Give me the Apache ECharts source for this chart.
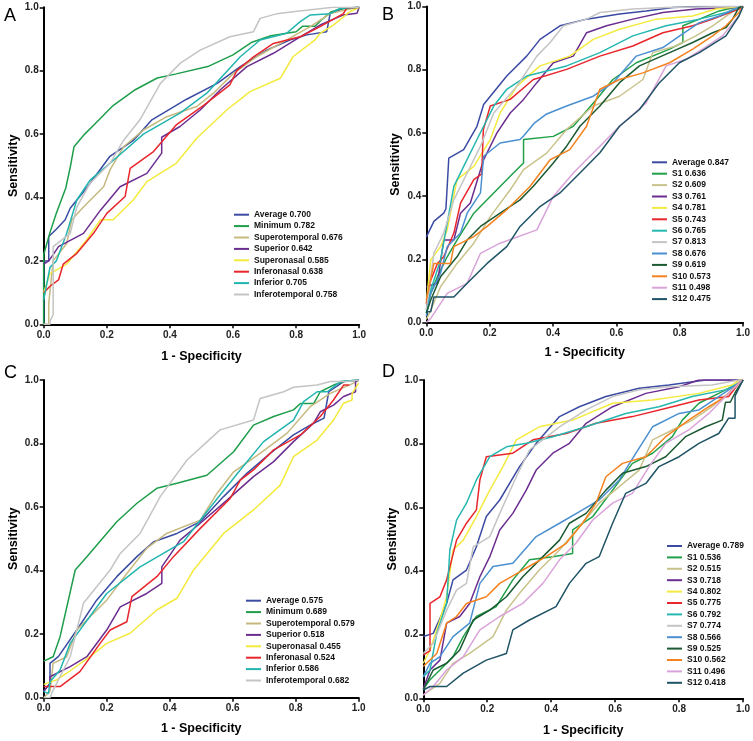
<!DOCTYPE html>
<html><head><meta charset="utf-8">
<script src="https://cdn.jsdelivr.net/npm/echarts@6/dist/echarts.min.js"></script>
<style>html,body{margin:0;padding:0;background:#fff}#c{width:753px;height:741px}</style>
</head><body><div id="c"></div>
<script>
// ---------- Panel A ----------
const A_names = ['Average 0.700','Minimum 0.782','Superotemporal 0.676','Superior 0.642','Superonasal 0.585','Inferonasal 0.638','Inferior 0.705','Inferotemporal 0.758'];
const A_avg = [[0,0],[0,0.2],[0.016,0.2],[0.016,0.277],[0.04,0.3],[0.068,0.33],[0.084,0.366],[0.136,0.43],[0.21,0.53],[0.284,0.58],[0.343,0.645],[0.453,0.71],[0.55,0.76],[0.623,0.813],[0.707,0.865],[0.78,0.897],[0.834,0.913],[0.897,0.923],[0.908,0.98],[0.95,0.997],[1,1]];
const A_min = [[0,0],[0,0.22],[0.02,0.29],[0.04,0.35],[0.07,0.43],[0.085,0.5],[0.096,0.56],[0.13,0.6],[0.17,0.64],[0.22,0.69],[0.29,0.74],[0.36,0.777],[0.42,0.79],[0.52,0.813],[0.6,0.85],[0.66,0.89],[0.72,0.91],[0.8,0.923],[0.82,0.94],[0.86,0.94],[0.88,0.96],[0.91,0.985],[0.94,0.995],[1,1]];
const A_supT = [[0,0],[0.016,0],[0.016,0.066],[0.03,0.2],[0.073,0.255],[0.089,0.33],[0.126,0.37],[0.19,0.434],[0.21,0.487],[0.253,0.56],[0.316,0.613],[0.39,0.655],[0.485,0.687],[0.538,0.729],[0.6,0.79],[0.675,0.844],[0.77,0.897],[0.845,0.939],[0.908,0.98],[0.98,0.997],[1,1]];
const A_sup = [[0,0.19],[0.016,0.2],[0.03,0.22],[0.047,0.245],[0.126,0.287],[0.18,0.36],[0.242,0.434],[0.327,0.476],[0.374,0.54],[0.374,0.59],[0.432,0.624],[0.496,0.676],[0.56,0.74],[0.644,0.813],[0.728,0.855],[0.813,0.907],[0.876,0.944],[0.95,0.976],[0.993,0.981],[1,1]];
const A_supN = [[0,0.1],[0.02,0.16],[0.073,0.19],[0.136,0.266],[0.18,0.33],[0.22,0.33],[0.284,0.392],[0.327,0.45],[0.42,0.508],[0.485,0.587],[0.58,0.676],[0.654,0.734],[0.75,0.776],[0.79,0.844],[0.86,0.897],[0.876,0.918],[0.918,0.944],[0.95,0.97],[0.97,0.986],[1,1]];
const A_infN = [[0,0.1],[0.02,0.12],[0.047,0.14],[0.062,0.19],[0.105,0.224],[0.158,0.287],[0.2,0.35],[0.258,0.403],[0.274,0.492],[0.348,0.545],[0.42,0.629],[0.506,0.69],[0.59,0.755],[0.612,0.8],[0.665,0.844],[0.728,0.886],[0.813,0.907],[0.876,0.939],[0.95,0.98],[0.96,0.997],[1,1]];
const A_inf = [[0,0.077],[0.02,0.18],[0.04,0.2],[0.073,0.287],[0.105,0.392],[0.147,0.455],[0.21,0.508],[0.316,0.6],[0.432,0.666],[0.517,0.729],[0.623,0.844],[0.686,0.897],[0.77,0.918],[0.813,0.955],[0.845,0.976],[0.908,0.98],[0.94,0.997],[1,1]];
const A_infT = [[0,0],[0.02,0],[0.02,0.01],[0.03,0.03],[0.03,0.245],[0.084,0.287],[0.105,0.37],[0.147,0.445],[0.21,0.508],[0.253,0.58],[0.305,0.645],[0.37,0.76],[0.432,0.823],[0.496,0.865],[0.59,0.907],[0.665,0.923],[0.686,0.965],[0.74,0.98],[0.79,0.986],[0.918,1],[1,1]];

// ---------- Panel C ----------
const C_names = ['Average 0.575','Minimum 0.689','Superotemporal 0.579','Superior 0.518','Superonasal 0.455','Inferonasal 0.524','Inferior 0.586','Inferotemporal 0.682'];
const C_avg = [[0,0.02],[0.02,0.045],[0.02,0.108],[0.047,0.13],[0.105,0.213],[0.168,0.307],[0.232,0.381],[0.296,0.444],[0.349,0.491],[0.423,0.517],[0.497,0.554],[0.571,0.633],[0.645,0.706],[0.719,0.769],[0.793,0.827],[0.857,0.864],[0.89,0.88],[0.905,0.963],[0.952,0.995],[1,1]];
const C_min = [[0,0.115],[0.03,0.129],[0.052,0.192],[0.1,0.402],[0.137,0.444],[0.232,0.554],[0.296,0.612],[0.359,0.659],[0.423,0.675],[0.518,0.7],[0.603,0.774],[0.666,0.858],[0.73,0.885],[0.793,0.906],[0.815,0.926],[0.857,0.926],[0.878,0.963],[0.92,0.984],[0.952,0.995],[1,1]];
const C_supT = [[0,0],[0.02,0.02],[0.03,0.108],[0.073,0.129],[0.105,0.213],[0.2,0.307],[0.264,0.391],[0.327,0.47],[0.39,0.517],[0.497,0.559],[0.55,0.643],[0.603,0.711],[0.687,0.769],[0.772,0.832],[0.846,0.916],[0.91,0.958],[0.984,0.99],[1,1]];
const C_sup = [[0,0.02],[0.02,0.045],[0.02,0.066],[0.084,0.098],[0.137,0.129],[0.2,0.213],[0.243,0.286],[0.327,0.328],[0.375,0.36],[0.375,0.412],[0.433,0.496],[0.497,0.549],[0.582,0.622],[0.666,0.696],[0.73,0.743],[0.793,0.806],[0.857,0.864],[0.878,0.9],[0.92,0.921],[0.952,0.948],[0.99,0.963],[0.99,0.995],[1,1]];
const C_supN = [[0,0.042],[0.041,0.056],[0.073,0.077],[0.147,0.129],[0.2,0.171],[0.274,0.203],[0.359,0.276],[0.423,0.313],[0.476,0.402],[0.571,0.517],[0.666,0.591],[0.751,0.669],[0.793,0.759],[0.868,0.811],[0.92,0.874],[0.952,0.927],[0.979,0.937],[0.979,0.958],[1,0.99]];
const C_infN = [[0,0.035],[0.052,0.035],[0.115,0.082],[0.179,0.171],[0.211,0.213],[0.264,0.239],[0.28,0.318],[0.359,0.381],[0.412,0.444],[0.497,0.533],[0.592,0.627],[0.624,0.685],[0.666,0.717],[0.73,0.78],[0.815,0.827],[0.878,0.885],[0.92,0.937],[0.952,0.984],[0.97,0.984]];
const C_inf = [[0,0.02],[0.015,0.013],[0.02,0.05],[0.052,0.087],[0.084,0.171],[0.2,0.328],[0.306,0.412],[0.444,0.491],[0.539,0.612],[0.624,0.717],[0.698,0.806],[0.793,0.874],[0.825,0.932],[0.868,0.963],[0.9,0.963],[0.942,0.995],[1,1]];
const C_infT = [[0,0],[0.02,0],[0.03,0.024],[0.084,0.129],[0.126,0.297],[0.211,0.402],[0.243,0.454],[0.306,0.517],[0.37,0.633],[0.455,0.748],[0.56,0.843],[0.666,0.874],[0.687,0.942],[0.762,0.963],[0.793,0.977],[0.868,0.984],[0.91,0.995],[0.963,0.995],[1,1]];

// ---------- Panel B ----------
const B_names = ['Average 0.847','S1 0.636','S2 0.609','S3 0.761','S4 0.781','S5 0.743','S6 0.765','S7 0.813','S8 0.676','S9 0.619','S10 0.573','S11 0.498','S12 0.475'];
const B_avg = [[0,0.27],[0.024,0.32],[0.055,0.346],[0.062,0.36],[0.071,0.52],[0.118,0.547],[0.16,0.621],[0.181,0.69],[0.254,0.78],[0.317,0.843],[0.359,0.896],[0.422,0.939],[0.506,0.96],[0.61,0.976],[0.694,0.986],[0.778,0.997],[0.862,1],[1,1]];
const B_S1 = [[0,0.03],[0.014,0.092],[0.035,0.145],[0.066,0.208],[0.097,0.261],[0.15,0.346],[0.202,0.399],[0.275,0.473],[0.307,0.505],[0.307,0.579],[0.401,0.589],[0.464,0.621],[0.537,0.706],[0.589,0.769],[0.663,0.822],[0.768,0.865],[0.81,0.886],[0.81,0.939],[0.862,0.96],[0.925,0.986],[0.987,1],[1,1]];
const B_S2 = [[0,0.01],[0.014,0.039],[0.045,0.113],[0.097,0.187],[0.15,0.251],[0.202,0.335],[0.265,0.42],[0.307,0.484],[0.38,0.536],[0.443,0.611],[0.527,0.685],[0.61,0.716],[0.684,0.769],[0.715,0.854],[0.788,0.875],[0.851,0.907],[0.904,0.939],[0.956,0.976],[0.987,0.997],[1,1]];
const B_S3 = [[0,0.113],[0.035,0.124],[0.055,0.261],[0.087,0.261],[0.108,0.346],[0.139,0.378],[0.181,0.515],[0.223,0.6],[0.265,0.663],[0.307,0.706],[0.349,0.759],[0.401,0.822],[0.464,0.843],[0.506,0.917],[0.569,0.939],[0.652,0.96],[0.747,0.981],[0.851,0.992],[0.977,0.997],[1,1]];
const B_S4 = [[0,0.06],[0.014,0.198],[0.045,0.24],[0.066,0.293],[0.097,0.452],[0.15,0.494],[0.202,0.579],[0.233,0.663],[0.286,0.748],[0.359,0.812],[0.453,0.843],[0.527,0.896],[0.61,0.928],[0.726,0.96],[0.841,0.97],[0.914,0.992],[0.987,1],[1,1]];
const B_S5 = [[0,0.06],[0.014,0.134],[0.035,0.187],[0.055,0.208],[0.087,0.283],[0.108,0.378],[0.15,0.452],[0.175,0.47],[0.18,0.61],[0.202,0.685],[0.265,0.706],[0.338,0.769],[0.443,0.801],[0.548,0.843],[0.652,0.875],[0.747,0.917],[0.841,0.939],[0.904,0.96],[0.987,0.992],[1,1]];
const B_S6 = [[0,0.04],[0.014,0.103],[0.045,0.198],[0.087,0.431],[0.118,0.494],[0.16,0.579],[0.213,0.685],[0.254,0.738],[0.317,0.78],[0.443,0.812],[0.548,0.854],[0.652,0.907],[0.757,0.939],[0.862,0.96],[0.946,0.981],[0.987,0.997],[1,1]];
const B_S7 = [[0,0.04],[0.024,0.219],[0.055,0.283],[0.087,0.388],[0.129,0.473],[0.171,0.558],[0.213,0.663],[0.286,0.748],[0.349,0.843],[0.391,0.886],[0.433,0.939],[0.506,0.96],[0.548,0.981],[0.652,0.992],[0.757,0.997],[0.987,1],[1,1]];
const B_S8 = [[0,0.02],[0.014,0.092],[0.045,0.156],[0.066,0.24],[0.108,0.283],[0.129,0.346],[0.171,0.41],[0.181,0.526],[0.233,0.568],[0.296,0.579],[0.307,0.59],[0.34,0.63],[0.38,0.66],[0.443,0.685],[0.527,0.716],[0.59,0.759],[0.663,0.843],[0.747,0.87],[0.8,0.907],[0.862,0.949],[0.925,0.97],[0.987,0.997],[1,1]];
const B_S9 = [[0,0.03],[0.014,0.071],[0.045,0.145],[0.097,0.208],[0.129,0.261],[0.171,0.304],[0.233,0.346],[0.296,0.388],[0.338,0.431],[0.401,0.505],[0.443,0.558],[0.485,0.621],[0.548,0.685],[0.61,0.759],[0.673,0.812],[0.768,0.854],[0.841,0.886],[0.904,0.917],[0.946,0.933],[0.967,0.96],[0.987,0.997],[1,1]];
const B_S10 = [[0,0.071],[0.024,0.187],[0.076,0.187],[0.087,0.24],[0.15,0.272],[0.192,0.304],[0.254,0.357],[0.328,0.431],[0.391,0.515],[0.453,0.547],[0.506,0.621],[0.548,0.738],[0.61,0.769],[0.684,0.79],[0.768,0.822],[0.841,0.865],[0.904,0.907],[0.946,0.939],[0.987,0.981],[1,1]];
const B_S11 = [[0,0],[0.014,0.013],[0.066,0.092],[0.129,0.124],[0.171,0.219],[0.233,0.251],[0.349,0.293],[0.401,0.399],[0.464,0.473],[0.548,0.558],[0.61,0.621],[0.694,0.695],[0.757,0.812],[0.82,0.833],[0.872,0.865],[0.935,0.907],[0.987,0.97],[1,1]];
const B_S12 = [[0,0.034],[0.014,0.034],[0.024,0.081],[0.087,0.081],[0.129,0.124],[0.192,0.187],[0.254,0.24],[0.296,0.304],[0.359,0.367],[0.422,0.41],[0.485,0.473],[0.548,0.537],[0.61,0.621],[0.673,0.674],[0.736,0.759],[0.799,0.822],[0.862,0.854],[0.946,0.907],[0.987,0.97],[1,1]];

// ---------- Panel D ----------
const D_names = ['Average 0.789','S1 0.536','S2 0.515','S3 0.718','S4 0.802','S5 0.775','S6 0.792','S7 0.774','S8 0.566','S9 0.525','S10 0.562','S11 0.496','S12 0.418'];
const D_avg = [[0,0.194],[0.031,0.204],[0.073,0.298],[0.093,0.372],[0.135,0.403],[0.166,0.476],[0.197,0.571],[0.239,0.623],[0.301,0.728],[0.353,0.801],[0.426,0.885],[0.488,0.916],[0.571,0.948],[0.675,0.974],[0.768,0.984],[0.883,1],[1,1]];
const D_S1 = [[0,0.03],[0.021,0.058],[0.052,0.089],[0.093,0.131],[0.125,0.194],[0.166,0.257],[0.228,0.288],[0.28,0.372],[0.332,0.435],[0.405,0.445],[0.467,0.455],[0.467,0.529],[0.53,0.571],[0.592,0.654],[0.654,0.738],[0.717,0.77],[0.779,0.822],[0.81,0.874],[0.862,0.927],[0.924,0.958],[0.987,0.99],[1,1]];
const D_S2 = [[0,0.01],[0.021,0.026],[0.052,0.047],[0.093,0.11],[0.145,0.141],[0.218,0.194],[0.26,0.277],[0.301,0.33],[0.363,0.403],[0.426,0.466],[0.488,0.539],[0.55,0.613],[0.613,0.665],[0.675,0.717],[0.717,0.812],[0.779,0.843],[0.841,0.874],[0.903,0.916],[0.966,0.969],[0.987,1],[1,1]];
const D_S3 = [[0,0.03],[0.021,0.089],[0.052,0.12],[0.073,0.236],[0.114,0.257],[0.145,0.298],[0.177,0.382],[0.208,0.445],[0.239,0.529],[0.28,0.581],[0.322,0.654],[0.353,0.717],[0.405,0.77],[0.457,0.801],[0.509,0.864],[0.592,0.916],[0.696,0.958],[0.8,0.979],[0.862,1],[1,1]];
const D_S4 = [[0,0.11],[0.021,0.152],[0.052,0.246],[0.073,0.319],[0.093,0.466],[0.125,0.497],[0.166,0.571],[0.208,0.654],[0.249,0.728],[0.291,0.812],[0.363,0.853],[0.467,0.874],[0.592,0.927],[0.717,0.937],[0.862,0.958],[0.966,0.984],[0.987,1],[1,1]];
const D_S5 = [[0,0.136],[0.021,0.15],[0.021,0.298],[0.052,0.319],[0.073,0.372],[0.104,0.497],[0.135,0.55],[0.166,0.592],[0.177,0.686],[0.197,0.759],[0.28,0.77],[0.343,0.812],[0.447,0.832],[0.54,0.864],[0.654,0.885],[0.779,0.916],[0.862,0.937],[0.955,0.948],[0.987,0.99],[1,1]];
const D_S6 = [[0,0.068],[0.021,0.089],[0.042,0.204],[0.073,0.298],[0.083,0.466],[0.104,0.56],[0.135,0.613],[0.166,0.686],[0.208,0.759],[0.26,0.79],[0.322,0.801],[0.405,0.822],[0.509,0.853],[0.633,0.895],[0.737,0.916],[0.841,0.948],[0.945,0.969],[0.987,0.99],[1,1]];
const D_S7 = [[0,0.141],[0.031,0.173],[0.073,0.277],[0.104,0.34],[0.135,0.361],[0.156,0.476],[0.208,0.508],[0.239,0.581],[0.291,0.696],[0.332,0.78],[0.426,0.853],[0.509,0.906],[0.592,0.948],[0.675,0.969],[0.768,0.979],[0.903,0.984],[0.987,1],[1,1]];
const D_S8 = [[0,0.068],[0.021,0.11],[0.052,0.131],[0.093,0.194],[0.145,0.236],[0.177,0.361],[0.218,0.414],[0.28,0.424],[0.353,0.508],[0.426,0.55],[0.498,0.592],[0.55,0.623],[0.613,0.686],[0.665,0.77],[0.717,0.853],[0.8,0.895],[0.862,0.906],[0.924,0.948],[0.987,0.99],[1,1]];
const D_S9 = [[0,0.026],[0.031,0.089],[0.073,0.11],[0.114,0.152],[0.156,0.246],[0.208,0.277],[0.26,0.319],[0.311,0.382],[0.374,0.445],[0.426,0.497],[0.457,0.55],[0.509,0.581],[0.571,0.654],[0.623,0.707],[0.696,0.728],[0.758,0.759],[0.82,0.822],[0.883,0.853],[0.935,0.874],[0.945,0.93],[0.96,0.93],[0.975,0.96],[1,1]];
const D_S10 = [[0,0.1],[0.042,0.141],[0.073,0.236],[0.104,0.257],[0.135,0.298],[0.197,0.319],[0.239,0.361],[0.311,0.403],[0.384,0.445],[0.447,0.487],[0.498,0.55],[0.54,0.613],[0.571,0.696],[0.623,0.738],[0.696,0.759],[0.758,0.822],[0.83,0.874],[0.893,0.916],[0.945,0.948],[0.987,0.99],[1,1]];
const D_S11 = [[0,0.01],[0.031,0.037],[0.073,0.089],[0.125,0.131],[0.177,0.215],[0.239,0.257],[0.311,0.298],[0.374,0.361],[0.426,0.435],[0.477,0.487],[0.53,0.56],[0.592,0.613],[0.654,0.644],[0.706,0.728],[0.758,0.801],[0.83,0.843],[0.893,0.895],[0.945,0.948],[0.987,0.99],[1,1]];
const D_S12 = [[0,0.026],[0.021,0.037],[0.073,0.037],[0.125,0.079],[0.197,0.12],[0.26,0.141],[0.28,0.215],[0.332,0.246],[0.415,0.288],[0.457,0.361],[0.509,0.424],[0.55,0.445],[0.592,0.55],[0.633,0.644],[0.696,0.675],[0.737,0.728],[0.8,0.759],[0.862,0.801],[0.924,0.832],[0.955,0.88],[0.975,0.88],[0.975,0.95],[1,1]];

const tickVals = [0,0.2,0.4,0.6,0.8,1.0];

// ---------- styling ----------
const FONT = '"Liberation Sans", Arial, sans-serif';
const colAC = ['#3b4ba3','#1e9e4a','#c6b97f','#6b2d8f','#f3ea3c','#e8262c','#22b5b0','#c4c4c4'];
const colBD = ['#3b4ba3','#20a048','#c9c38b','#6b2d8f','#f4ea40','#e8262c','#26b8b0','#c4c4c4','#4a90d0','#1b5a32','#f4821f','#d9a3d9','#1f5365'];

const panels = [
  {names:A_names, data:[A_avg,A_min,A_supT,A_sup,A_supN,A_infN,A_inf,A_infT], cols:colAC,
   grid:{left:43.7, top:7.3, width:315.5, height:317}, legend:{left:234, top:209}, letter:'A', lx:4, ly:7, xg:26},
  {names:B_names, data:[B_avg,B_S1,B_S2,B_S3,B_S4,B_S5,B_S6,B_S7,B_S8,B_S9,B_S10,B_S11,B_S12], cols:colBD,
   grid:{left:426.3, top:6.5, width:318.5, height:316}, legend:{left:652, top:156.6}, letter:'B', lx:382, ly:6.5, xg:24},
  {names:C_names, data:[C_avg,C_min,C_supT,C_sup,C_supN,C_infN,C_inf,C_infT], cols:colAC,
   grid:{left:43.7, top:380, width:315, height:317.7}, legend:{left:246, top:595}, letter:'C', lx:4, ly:364, xg:24},
  {names:D_names, data:[D_avg,D_S1,D_S2,D_S3,D_S4,D_S5,D_S6,D_S7,D_S8,D_S9,D_S10,D_S11,D_S12], cols:colBD,
   grid:{left:423.3, top:380, width:321, height:318.3}, legend:{left:667, top:540.3}, letter:'D', lx:382, ly:363, xg:26}
];

function axis(gi, name, isX, gap){
  return {
    type:'value', gridIndex:gi, min:0, max:1, interval:0.2,
    name:name, nameLocation:'middle', nameGap: gap,
    nameTextStyle:{fontSize:12.5, fontWeight:'bold', color:'#000', fontFamily:FONT},
    axisLine:{show:true, onZero:false, lineStyle:{color:'#000', width:2}},
    axisTick:{show:true, length:4, lineStyle:{color:'#000', width:1.5}},
    axisLabel:{fontSize:10, fontWeight:'bold', color:'#222', fontFamily:FONT, margin: isX ? 6 : 5,
      formatter:(v)=>{const t=tickVals.find(x=>Math.abs(x-v)<1e-6); return (t===undefined? v : t).toFixed(1);}},
    splitLine:{show:false}
  };
}

const option = {
  animation:false,
  backgroundColor:'#fff',
  grid:[], xAxis:[], yAxis:[], series:[], legend:[], graphic:[]
};

panels.forEach((p, gi)=>{
  option.grid.push(Object.assign({containLabel:false}, p.grid));
  option.xAxis.push(axis(gi,'1 - Specificity',true,p.xg));
  option.yAxis.push(axis(gi,'Sensitivity',false,24));
  p.names.forEach((nm,i)=>{
    option.series.push({
      type:'line', name:nm, xAxisIndex:gi, yAxisIndex:gi, data:p.data[i],
      showSymbol:false, symbol:'none', silent:true,
      lineStyle:{color:p.cols[i], width:1.5}, itemStyle:{color:p.cols[i]}
    });
  });
  option.legend.push({
    data:p.names, orient:'vertical', left:p.legend.left, top:p.legend.top,
    itemWidth:15, itemHeight:2, itemGap:0, icon:'rect', padding:0, selectedMode:false,
    textStyle:{fontSize:8.5, fontWeight:'bold', color:'#111', fontFamily:FONT, lineHeight:11.4}
  });
  option.graphic.push({type:'text', left:p.lx, top:p.ly,
    style:{text:p.letter, fontSize:18, fontFamily:'"Liberation Sans Narrow", "Liberation Sans", Arial, sans-serif', fill:'#000'}});
});

const chart = echarts.init(document.getElementById('c'), null, {renderer:'canvas'});
chart.setOption(option);
</script></body></html>
